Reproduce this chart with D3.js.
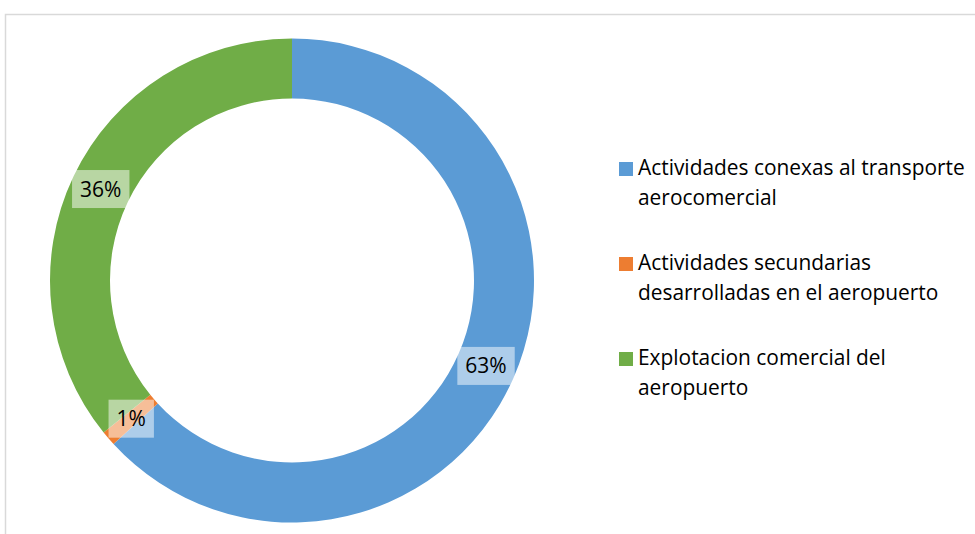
<!DOCTYPE html>
<html>
<head>
<meta charset="utf-8">
<script src="https://cdn.jsdelivr.net/npm/d3@7"></script>
<style>
  body { margin: 0; background: #fff; }
  svg text { font-family: "Open Sans", "Liberation Sans", sans-serif; fill: #000; }
</style>
</head>
<body>
<script>
//chart data
var categories = [
  ["Actividades conexas al transporte", "aerocomercial"],
  ["Actividades secundarias", "desarrolladas en el aeropuerto"],
  ["Explotacion comercial del", "aeropuerto"]
];
var values = [63.2, 1.0, 35.8];
var valueLabels = ["63%", "1%", "36%"];
var colors = ["#5B9BD5", "#ED7D31", "#70AD47"];

(function(){

  var width = 975, height = 534;
  var cx = 292, cy = 280.5, outerR = 242, innerR = 182;

  var svg = d3.select("body").append("svg")
      .attr("width", width)
      .attr("height", height);

  //chart area frame (only top and left edges are visible)
  svg.append("rect")
      .attr("x", 5.5).attr("y", 14.5)
      .attr("width", 1000).attr("height", 600)
      .attr("fill", "none")
      .attr("stroke", "#D9D9D9")
      .attr("stroke-width", 1.5);

  var pie = d3.pie().sort(null).value(function(d){ return d; });
  var arcs = pie(values);

  var arc = d3.arc().innerRadius(innerR).outerRadius(outerR);
  var labelArc = d3.arc().innerRadius((innerR + outerR) / 2).outerRadius((innerR + outerR) / 2);

  var g = svg.append("g").attr("transform", "translate(" + cx + "," + cy + ")");

  g.selectAll(".slice")
      .data(arcs)
      .enter()
      .append("path")
      .attr("class", "slice")
      .attr("d", arc)
      .attr("fill", function(d, i){ return colors[i]; });

  //data labels with translucent white boxes
  var lab = g.selectAll(".lab")
      .data(arcs)
      .enter()
      .append("g")
      .attr("class", "lab")
      .attr("transform", function(d){ return "translate(" + labelArc.centroid(d) + ")"; });

  lab.append("text")
      .attr("text-anchor", "middle")
      .attr("dy", "0.36em")
      .style("font-size", "21px")
      .text(function(d, i){ return valueLabels[i]; })
      .each(function(){
        var bb = this.getBBox();
        d3.select(this.parentNode).insert("rect", "text")
            .attr("x", bb.x - 8)
            .attr("y", -19)
            .attr("width", bb.width + 16)
            .attr("height", 38)
            .attr("fill", "#fff")
            .attr("fill-opacity", 0.5);
      });

  //legend
  var legend = svg.selectAll(".legend")
      .data(categories)
      .enter()
      .append("g")
      .attr("class", "legend")
      .attr("transform", function(d, i){ return "translate(619," + (162 + i * 95) + ")"; });

  legend.append("rect")
      .attr("width", 14)
      .attr("height", 14)
      .attr("fill", function(d, i){ return colors[i]; });

  legend.append("text")
      .attr("x", 19)
      .attr("y", 13)
      .style("font-size", "20.9px")
      .selectAll("tspan")
      .data(function(d){ return d; })
      .enter()
      .append("tspan")
      .attr("x", 19)
      .attr("dy", function(d, i){ return i === 0 ? 0 : 29.5; })
      .text(function(d){ return d; });

})();
</script>
</body>
</html>
